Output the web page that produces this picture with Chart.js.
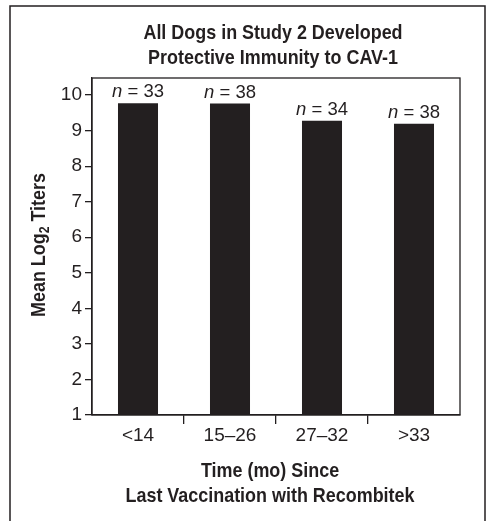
<!DOCTYPE html>
<html>
<head>
<meta charset="utf-8">
<script src="https://cdn.jsdelivr.net/npm/chart.js@4.4.0/dist/chart.umd.min.js"></script>
<style>
  html, body { margin: 0; padding: 0; background: #fff; }
  #wrap { width: 490px; height: 521px; position: relative; }
</style>
</head>
<body>
<div id="wrap"><canvas id="grafico"></canvas></div>
<script>
(function () {
  'use strict';
  let categorias = ['<14', '15\u201326', '27\u201332', '>33'];
  let valores = [9.77, 9.76, 9.28, 9.19];
  let nCaes = [33, 38, 34, 38];
  let yTicks = [1, 2, 3, 4, 5, 6, 7, 8, 9, 10];

  let tinta = '#231f20';
  let fonte = '"Liberation Sans", Arial, sans-serif';
  let aperto = 0.875; // compressao horizontal p/ imitar fonte condensada
  let negrito = 'bold 20.5px ' + fonte;

  // escreve texto comprimido na horizontal, centrado em x
  function textoApertado(ctx, txt, x, y) {
    ctx.save();
    ctx.translate(x, y);
    ctx.scale(aperto, 1);
    ctx.textAlign = 'center';
    ctx.fillText(txt, 0, 0);
    ctx.restore();
  }

  // titulos, moldura e rotulos n = xx
  let extras = {
    id: 'extras',
    afterDraw(chart) {
      let ctx = chart.ctx;
      let area = chart.chartArea;
      ctx.save();
      ctx.strokeStyle = tinta;
      ctx.fillStyle = tinta;

      // moldura externa
      ctx.lineWidth = 1.5;
      ctx.beginPath();
      ctx.moveTo(10, 530);
      ctx.lineTo(10, 6);
      ctx.lineTo(485, 6);
      ctx.lineTo(485, 530);
      ctx.stroke();

      // caixa do grafico
      ctx.lineWidth = 1.3;
      ctx.strokeRect(area.left, area.top, area.right - area.left, area.bottom - area.top);

      // titulo
      ctx.textBaseline = 'alphabetic';
      ctx.font = negrito;
      textoApertado(ctx, 'All Dogs in Study 2 Developed', 273, 39);
      textoApertado(ctx, 'Protective Immunity to CAV-1', 273, 64);

      // titulo eixo x
      textoApertado(ctx, 'Time (mo) Since', 270, 477);
      textoApertado(ctx, 'Last Vaccination with Recombitek', 270, 502);

      // titulo eixo y com subscrito
      ctx.save();
      ctx.translate(45, 245);
      ctx.rotate(-Math.PI / 2);
      ctx.scale(aperto, 1);
      let p1 = 'Mean Log';
      let p2 = '2';
      let p3 = ' Titers';
      ctx.font = negrito;
      let w1 = ctx.measureText(p1).width;
      let w3 = ctx.measureText(p3).width;
      ctx.font = 'bold 14px ' + fonte;
      let w2 = ctx.measureText(p2).width;
      let x0 = -(w1 + w2 + w3) / 2;
      ctx.textAlign = 'left';
      ctx.font = negrito;
      ctx.fillText(p1, x0, 0);
      ctx.font = 'bold 14px ' + fonte;
      ctx.fillText(p2, x0 + w1, 4);
      ctx.font = negrito;
      ctx.fillText(p3, x0 + w1 + w2, 0);
      ctx.restore();

      // n = xx sobre as barras
      let meta = chart.getDatasetMeta(0);
      meta.data.forEach(function (bar, i) {
        let t1 = 'n';
        let t2 = ' = ' + nCaes[i];
        ctx.font = 'italic 18.5px ' + fonte;
        let a = ctx.measureText(t1).width;
        ctx.font = '18.5px ' + fonte;
        let b = ctx.measureText(t2).width;
        let xs = bar.x - (a + b) / 2;
        let ys = bar.y - 6;
        ctx.textAlign = 'left';
        ctx.font = 'italic 18.5px ' + fonte;
        ctx.fillText(t1, xs, ys);
        ctx.font = '18.5px ' + fonte;
        ctx.fillText(t2, xs + a, ys);
      });
      ctx.restore();
    }
  };

  new Chart(document.getElementById('grafico'), {
    type: 'bar',
    data: {
      labels: categorias,
      datasets: [{
        data: valores,
        backgroundColor: tinta,
        borderWidth: 0,
        barPercentage: 0.435,
        categoryPercentage: 1
      }]
    },
    options: {
      responsive: true,
      maintainAspectRatio: false,
      animation: false,
      events: [],
      layout: { padding: { top: 78, right: 30, left: 0, bottom: 0 } },
      plugins: {
        legend: { display: false },
        title: { display: false },
        tooltip: { enabled: false }
      },
      scales: {
        x: {
          offset: true,
          border: { display: true, color: tinta, width: 1.3 },
          grid: {
            offset: true,
            drawOnChartArea: false,
            drawTicks: true,
            tickLength: 9,
            lineWidth: 1.3,
            color: function (c) {
              let i = c.index;
              return (i === undefined || i === 0 || i >= categorias.length) ? 'rgba(0,0,0,0)' : tinta;
            }
          },
          ticks: {
            color: tinta,
            padding: 0,
            font: { family: fonte, size: 19 }
          },
          afterFit: function (scale) { scale.height = 106; }
        },
        y: {
          min: 1,
          max: 10.48,
          border: { display: true, color: tinta, width: 1.3 },
          grid: {
            drawOnChartArea: false,
            drawTicks: true,
            tickLength: 7,
            lineWidth: 1.3,
            color: tinta
          },
          ticks: {
            color: tinta,
            padding: 3,
            font: { family: fonte, size: 19 }
          },
          afterBuildTicks: function (scale) {
            scale.ticks = yTicks.map(function (v) { return { value: v }; });
          },
          afterFit: function (scale) { scale.width = 92; }
        }
      }
    },
    plugins: [extras]
  });
})();
</script>
</body>
</html>
